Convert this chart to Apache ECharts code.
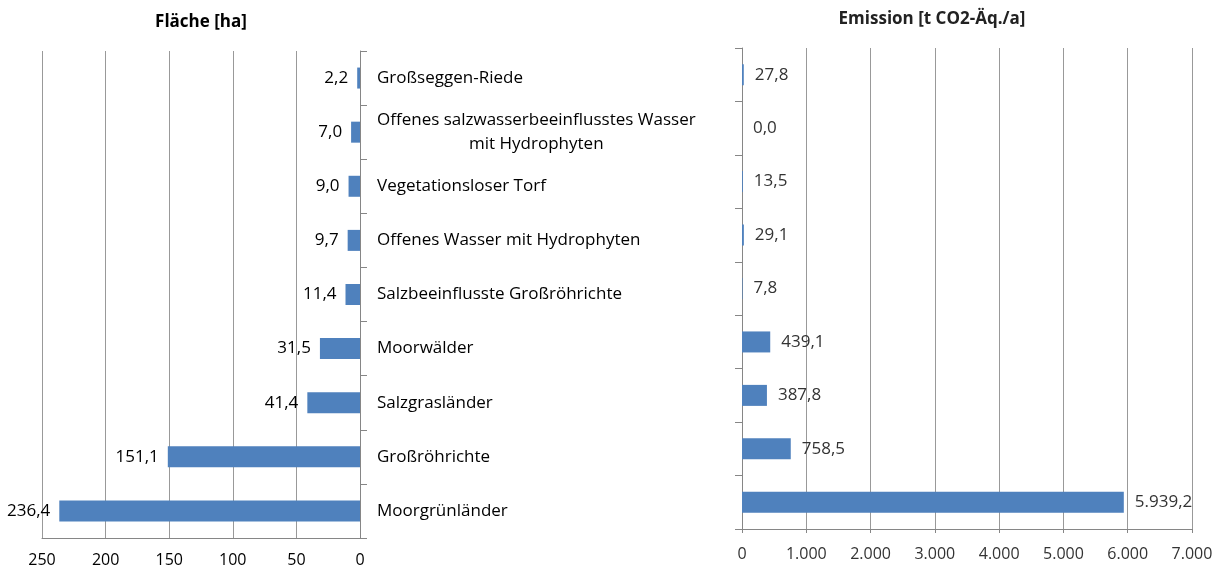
<!DOCTYPE html>
<html><head><meta charset="utf-8">
<script src="https://cdn.jsdelivr.net/npm/echarts@6/dist/echarts.min.js"></script>
<style>html,body{margin:0;padding:0;background:#fff}#c{width:1226px;height:574px}</style>
</head><body><div id="c"></div>
<script>
const categories = ["Großseggen-Riede","Offenes salzwasserbeeinflusstes Wasser\nmit Hydrophyten","Vegetationsloser Torf","Offenes Wasser mit Hydrophyten","Salzbeeinflusste Großröhrichte","Moorwälder","Salzgrasländer","Großröhrichte","Moorgrünländer"];
const flaeche = [2.2, 7.0, 9.0, 9.7, 11.4, 31.5, 41.4, 151.1, 236.4];
const emission = [27.8, 0.0, 13.5, 29.1, 7.8, 439.1, 387.8, 758.5, 5939.2];
const titleLeft = "Fläche [ha]";
const titleRight = "Emission [t CO2-Äq./a]";

function de(v, dec) {
  const s = v.toFixed(dec);
  let [i, f] = s.split('.');
  i = i.replace(/\B(?=(\d{3})+(?!\d))/g, '.');
  return f !== undefined ? i + ',' + f : i;
}
const FONT = 'Open Sans';
const chart = echarts.init(document.getElementById('c'));
chart.setOption({
  animation: false,
  textStyle: {fontFamily: FONT},
  title: [
    {text: titleLeft, left: 196, top: 9, textAlign: 'center', textStyle: {fontFamily: FONT, fontSize: 17, fontWeight: 'bold', color: '#000'}},
    {text: titleRight, left: 927, top: 6, textAlign: 'center', textStyle: {fontFamily: FONT, fontSize: 17, fontWeight: 'bold', color: '#222'}}
  ],
  grid: [
    {left: 42, width: 318, top: 51, height: 487},
    {left: 742, width: 450, top: 48, height: 481}
  ],
  xAxis: [
    {type: 'value', gridIndex: 0, inverse: true, min: 0, max: 250, interval: 50,
     axisLine: {show: true, lineStyle: {color: '#868686'}}, axisTick: {show: false},
     splitLine: {show: true, lineStyle: {color: '#999'}},
     axisLabel: {fontSize: 16, color: '#000', margin: 14}},
    {type: 'value', gridIndex: 1, min: 0, max: 7000, interval: 1000,
     axisLine: {show: true, lineStyle: {color: '#868686'}}, axisTick: {show: true, length: 4, lineStyle: {color: '#868686'}},
     splitLine: {show: true, lineStyle: {color: '#999'}},
     axisLabel: {fontSize: 16, color: '#333', margin: 17, formatter: v => de(v, 0)}}
  ],
  yAxis: [
    {type: 'category', gridIndex: 0, data: categories, inverse: true, position: 'right',
     axisLine: {show: true, lineStyle: {color: '#868686'}},
     axisTick: {show: true, length: 7, lineStyle: {color: '#868686'}},
     axisLabel: {fontSize: 17, color: '#000', margin: 17, align: 'left',
       formatter: v => {
         const parts = v.split('\n');
         if (parts.length > 1) return parts.map(p => '{c|' + p + '}').join('\n');
         return v;
       },
       rich: {c: {align: 'center', fontSize: 17, color: '#000', fontFamily: FONT, lineHeight: 24}}}},
    {type: 'category', gridIndex: 1, data: categories, inverse: true, position: 'left',
     axisLine: {show: true, lineStyle: {color: '#868686'}},
     axisTick: {show: true, length: 7, lineStyle: {color: '#868686'}},
     axisLabel: {show: false}}
  ],
  series: [
    {type: 'bar', xAxisIndex: 0, yAxisIndex: 0, data: flaeche, barWidth: 21,
     itemStyle: {color: '#4f81bd'},
     label: {show: true, position: 'left', distance: 9, fontSize: 17, color: '#000', formatter: p => de(p.value, 1)}},
    {type: 'bar', xAxisIndex: 1, yAxisIndex: 1, data: emission, barWidth: 21,
     itemStyle: {color: '#4f81bd'},
     label: {show: true, position: 'right', distance: 11, fontSize: 17, color: '#333', formatter: p => de(p.value, 1)}}
  ]
});
</script></body></html>
